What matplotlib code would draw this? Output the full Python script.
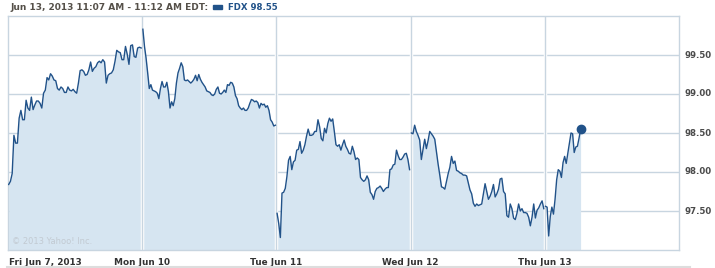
import numpy as np
import matplotlib
matplotlib.use('Agg')
import matplotlib.pyplot as plt
from matplotlib.patches import Rectangle

# FDX intraday prices, one list per trading day
fri = [97.84, 97.88, 97.98, 98.47, 98.37, 98.37, 98.69, 98.79, 98.67, 98.67,
       98.92, 98.82, 98.79, 98.96, 98.80, 98.86, 98.91, 98.91, 98.88, 98.82,
       99.01, 99.05, 99.21, 99.18, 99.26, 99.23, 99.18, 99.17, 99.07, 99.05,
       99.09, 99.07, 99.02, 99.02, 99.09, 99.05, 99.04, 99.06, 99.03, 99.01,
       99.14, 99.30, 99.31, 99.29, 99.24, 99.25, 99.31, 99.41, 99.29, 99.33,
       99.35, 99.40, 99.42, 99.40, 99.44, 99.41, 99.14, 99.24, 99.26, 99.27,
       99.31, 99.42, 99.56, 99.54, 99.53, 99.44, 99.44, 99.61, 99.51, 99.38,
       99.62, 99.63, 99.48, 99.47, 99.59, 99.60, 99.59]
mon = [99.83, 99.61, 99.46, 99.27, 99.07, 99.12, 99.05, 99.04, 99.03, 99.01,
       98.94, 99.07, 99.16, 99.09, 99.09, 99.15, 99.03, 98.82, 98.90, 98.85,
       98.94, 99.14, 99.27, 99.33, 99.40, 99.35, 99.18, 99.17, 99.18, 99.16,
       99.14, 99.16, 99.19, 99.24, 99.17, 99.25, 99.19, 99.15, 99.12, 99.09,
       99.04, 99.03, 99.02, 98.99, 98.98, 99.00, 99.06, 99.09, 99.01, 99.00,
       99.02, 99.05, 99.02, 99.12, 99.11, 99.15, 99.14, 99.09, 98.98, 98.94,
       98.85, 98.82, 98.80, 98.82, 98.79, 98.79, 98.82, 98.88, 98.93, 98.92,
       98.90, 98.91, 98.89, 98.82, 98.88, 98.86, 98.87, 98.83, 98.85, 98.79,
       98.67, 98.64, 98.59, 98.60]
tue = [97.47, 97.34, 97.16, 97.73, 97.74, 97.79, 97.94, 98.15, 98.20, 98.03,
       98.13, 98.15, 98.28, 98.29, 98.39, 98.24, 98.28, 98.35, 98.46, 98.55,
       98.47, 98.47, 98.48, 98.52, 98.52, 98.67, 98.58, 98.43, 98.40, 98.56,
       98.50, 98.62, 98.69, 98.65, 98.68, 98.52, 98.35, 98.33, 98.35, 98.28,
       98.35, 98.41, 98.33, 98.29, 98.24, 98.23, 98.33, 98.26, 98.16, 98.18,
       98.16, 97.93, 97.90, 97.88, 97.90, 97.95, 97.90, 97.74, 97.71, 97.65,
       97.75, 97.79, 97.80, 97.82, 97.79, 97.75, 97.78, 97.80, 97.80, 98.03,
       98.04, 98.09, 98.10, 98.28, 98.21, 98.16, 98.16, 98.19, 98.23, 98.24,
       98.16, 98.03]
wed = [98.50, 98.49, 98.60, 98.52, 98.47, 98.41, 98.16, 98.29, 98.42, 98.30,
       98.40, 98.52, 98.49, 98.46, 98.42, 98.26, 98.10, 97.96, 97.81, 97.80,
       97.78, 97.88, 97.98, 98.06, 98.20, 98.11, 98.14, 98.02, 98.01, 97.99,
       97.98, 97.96, 97.96, 97.95, 97.86, 97.77, 97.72, 97.60, 97.56, 97.59,
       97.57, 97.58, 97.59, 97.72, 97.85, 97.75, 97.65, 97.69, 97.75, 97.84,
       97.68, 97.72, 97.78, 97.91, 97.92, 97.75, 97.72, 97.44, 97.42, 97.59,
       97.53, 97.41, 97.39, 97.47, 97.59, 97.50, 97.53, 97.48, 97.48, 97.47,
       97.42, 97.31, 97.42, 97.59, 97.41, 97.51, 97.54, 97.59, 97.63, 97.53]
thu = [97.56, 97.55, 97.18, 97.43, 97.55, 97.46, 97.65, 97.90, 98.03, 98.01,
       97.93, 98.12, 98.20, 98.11, 98.24, 98.37, 98.50, 98.49, 98.25, 98.32,
       98.33, 98.43, 98.55]
days = [fri, mon, tue, wed, thu]
thu_minutes = 102  # 9:30 -> 11:12

day_labels = ['Fri Jun 7, 2013', 'Mon Jun 10', 'Tue Jun 11', 'Wed Jun 12', 'Thu Jun 13']
y_ticks = [97.5, 98.0, 98.5, 99.0, 99.5]
last_price = 98.55

SESSION = 390  # minutes per trading day
line_c = '#215289'
fill_c = '#d6e5f1'
grid_c = '#c8d5e0'
text_c = '#4a4a4a'

fig = plt.figure(figsize=(7.15, 2.68), dpi=100)
ax = fig.add_axes([8 / 715, 18 / 268, 671 / 715, 234 / 268])
ax.set_xlim(0, SESSION * len(days))
ax.set_ylim(97.0, 100.0)

for i, prices in enumerate(days):
    span = thu_minutes if i == len(days) - 1 else SESSION - 5
    t = i * SESSION + 2 + np.linspace(0, span, len(prices))
    ax.fill_between(t, prices, 97.0, color=fill_c, lw=0, zorder=1)
    ax.plot(t, prices, color=line_c, lw=1.0, zorder=4)
    if i == len(days) - 1:
        ax.plot(t[-1], prices[-1], 'o', color=line_c, ms=6, zorder=5)

for y in y_ticks:
    ax.axhline(y, color=grid_c, lw=1, zorder=0.5)
for i in range(1, len(days)):
    ax.axvline(i * SESSION, color='white', lw=2.5, zorder=2)
    ax.axvline(i * SESSION, color=grid_c, lw=1, zorder=3)

ax.set_xticks([])
ax.set_yticks([])
for s in ax.spines.values():
    s.set_color(grid_c)
    s.set_linewidth(1)

# y labels on the right
for y in y_ticks:
    ax.annotate(f'{y:.2f}', xy=(1, y), xycoords=('axes fraction', 'data'),
                xytext=(4, 0), textcoords='offset points', ha='left', va='center',
                fontsize=6.2, fontweight='bold', color=text_c)

# day labels
for i, lab in enumerate(day_labels):
    ha = 'left' if i == 0 else 'center'
    x = 0.01 * SESSION if i == 0 else i * SESSION
    ax.annotate(lab, xy=(x, 0), xycoords=('data', 'axes fraction'),
                xytext=(0, -9), textcoords='offset points', ha=ha, va='center',
                fontsize=6.4, fontweight='bold', color='#333333')

fig.add_artist(plt.Line2D([7 / 715, 690 / 715], [1.5 / 268, 1.5 / 268],
                          color='#dddddd', lw=1.5))

ax.text(0.006, 0.035, '\u00a9 2013 Yahoo! Inc.', transform=ax.transAxes,
        fontsize=6, color='#c2cad2', ha='left', va='center')

# header
fig.text(10 / 715, 1 - 7.3 / 268, 'Jun 13, 2013 11:07 AM - 11:12 AM EDT:',
         fontsize=6.5, fontweight='bold', color='#555049', ha='left', va='center')
fig.add_artist(Rectangle((213 / 715, 1 - 8.8 / 268), 9 / 715, 4 / 268,
                         transform=fig.transFigure, color=line_c))
fig.text(228 / 715, 1 - 7.3 / 268, f'FDX {last_price:.2f}',
         fontsize=6.2, fontweight='bold', color=line_c, ha='left', va='center')

fig.savefig('out.png', dpi=100)
